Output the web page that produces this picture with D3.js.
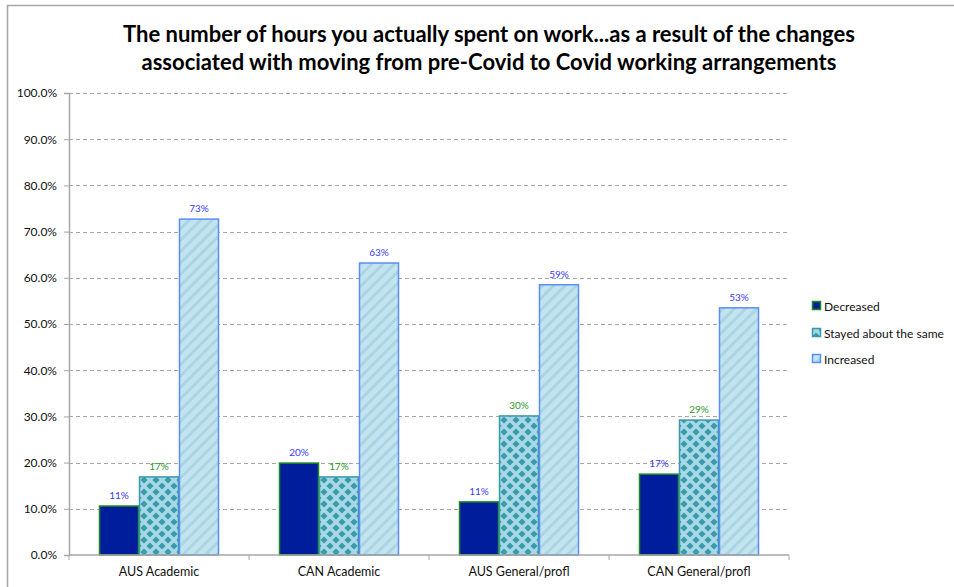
<!DOCTYPE html>
<html><head><meta charset="utf-8">
<script src="https://cdn.jsdelivr.net/npm/d3@7"></script>
<style>body{margin:0;background:#fff;}svg{display:block;font-family:Lato,"Open Sans",sans-serif;}</style>
</head><body>
<script>
const categories = ["AUS Academic","CAN Academic","AUS General/profl","CAN General/profl"];
const seriesNames = ["Decreased","Stayed about the same","Increased"];
const decreased = [10.6, 19.9, 11.5, 17.5];
const stayed = [16.9, 16.9, 30.1, 29.2];
const increased = [72.7, 63.2, 58.5, 53.5];
const labelsDecreased = ["11%","20%","11%","17%"];
const labelsStayed = ["17%","17%","30%","29%"];
const labelsIncreased = ["73%","63%","59%","53%"];
const yTicks = [0,10,20,30,40,50,60,70,80,90,100];
const titleLines = ["The number of hours you actually spent on work...as a result of the changes","associated with moving from pre-Covid to Covid working arrangements"];

const W = 954, H = 587;
const m = {left:69, right:954-789, top:93, bottom:587-555};
const svg = d3.select("body").append("svg").attr("width",W).attr("height",H);
const defs = svg.append("defs");

// diamond pattern
const T = 12;
const pd = defs.append("pattern").attr("id","diam").attr("patternUnits","userSpaceOnUse")
  .attr("width",T).attr("height",T);
pd.append("rect").attr("width",T).attr("height",T).attr("fill","#a7d8e6");
const dia = (cx,cy,r)=>`M${cx},${cy-r}L${cx+r},${cy}L${cx},${cy+r}L${cx-r},${cy}Z`;
[[T/2,T/2],[0,0],[T,0],[0,T],[T,T]].forEach(([x,y])=>pd.append("path").attr("d",dia(x,y,3.6)).attr("fill","#3a99ab"));

// stripes pattern
const ps = defs.append("pattern").attr("id","stripe").attr("patternUnits","userSpaceOnUse")
  .attr("width",8).attr("height",8).attr("patternTransform","rotate(45)");
ps.append("rect").attr("width",8).attr("height",8).attr("fill","#c3e4ee");
ps.append("rect").attr("width",3).attr("height",8).attr("fill","#a9d5e5");

// outer border
svg.append("rect").attr("x",7.5).attr("y",5.5).attr("width",W).attr("height",H)
  .attr("fill","none").attr("stroke","#a6a6a6").attr("stroke-width",1.5);

const x0 = d3.scaleBand().domain(categories).range([m.left, W-m.right]).paddingInner(0).paddingOuter(0);
const y = d3.scaleLinear().domain([0,100]).range([H-m.bottom, m.top]);
const bw = x0.bandwidth()/4.5;

// gridlines
svg.append("g").selectAll("line").data(yTicks.filter(d=>d>0)).join("line")
  .attr("x1",m.left).attr("x2",W-m.right).attr("y1",d=>Math.round(y(d))+0.5).attr("y2",d=>Math.round(y(d))+0.5)
  .attr("stroke","#a6a6a6").attr("stroke-dasharray","4,3");

const series = [
  {name:seriesNames[0], vals:decreased, labels:labelsDecreased, fill:"#001e9c", stroke:"#1f8a1f", lab:"#3a3aff"},
  {name:seriesNames[1], vals:stayed, labels:labelsStayed, fill:"url(#diam)", stroke:"#3a99ab", lab:"#2a9a2a"},
  {name:seriesNames[2], vals:increased, labels:labelsIncreased, fill:"url(#stripe)", stroke:"#5b8ef5", lab:"#3a3aff"}
];
const x1 = d3.scaleBand().domain(seriesNames).range([0, 3*bw]);

series.forEach(s=>{
  const g = svg.append("g");
  g.selectAll("rect").data(categories).join("rect")
    .attr("x",(c)=>x0(c)+0.75*bw+x1(s.name)+0.5)
    .attr("y",(c,i)=>y(s.vals[i]))
    .attr("width",bw-1)
    .attr("height",(c,i)=>y(0)-y(s.vals[i]))
    .attr("fill",s.fill).attr("stroke",s.stroke).attr("stroke-width",1.5);
  g.selectAll("text").data(categories).join("text")
    .attr("x",(c)=>x0(c)+0.75*bw+x1(s.name)+bw/2)
    .attr("y",(c,i)=>y(s.vals[i])-7)
    .attr("text-anchor","middle").attr("font-size",10).attr("fill",s.lab)
    .text((c,i)=>s.labels[i]);
});

// axes
const yAxis = d3.axisLeft(y).tickValues(yTicks).tickSize(5).tickFormat(d=>d.toFixed(1)+"%");
const ya = svg.append("g").attr("transform",`translate(${m.left},0)`).call(yAxis);
ya.select(".domain").attr("stroke","#a6a6a6").attr("stroke-width",1.5);
ya.selectAll(".tick line").attr("stroke","#a6a6a6");
ya.selectAll(".tick text").attr("font-size",12).attr("fill","#111").attr("font-family","Lato,sans-serif").attr("x",-12);

const xa = svg.append("g").attr("transform",`translate(0,${y(0)})`);
xa.append("line").attr("x1",m.left).attr("x2",W-m.right).attr("stroke","#a6a6a6").attr("stroke-width",1.5);
xa.selectAll("line.t").data(categories.concat(["end"])).join("line").attr("class","t")
  .attr("x1",(c,i)=>m.left+i*x0.bandwidth()).attr("x2",(c,i)=>m.left+i*x0.bandwidth())
  .attr("y1",0).attr("y2",5).attr("stroke","#a6a6a6");
xa.selectAll("text").data(categories).join("text")
  .attr("x",c=>x0(c)+x0.bandwidth()/2).attr("y",21).attr("text-anchor","middle")
  .attr("font-size",12.5).attr("fill","#111").text(c=>c);

// title
svg.append("g").selectAll("text").data(titleLines).join("text")
  .attr("x",489).attr("y",(d,i)=>42+i*28).attr("text-anchor","middle")
  .attr("font-size",22).attr("font-weight","bold").attr("fill","#000").text(d=>d);

// legend
const lg = svg.append("g");
const ly = [311,338,364];
series.forEach((s,i)=>{
  lg.append("rect").attr("x",812.5).attr("y",ly[i]-9.5).attr("width",8).attr("height",8)
    .attr("fill",s.fill).attr("stroke",s.stroke).attr("stroke-width",1.5);
  lg.append("text").attr("x",824).attr("y",ly[i]).attr("font-size",12).attr("fill","#111").text(s.name);
});
</script>
</body></html>
